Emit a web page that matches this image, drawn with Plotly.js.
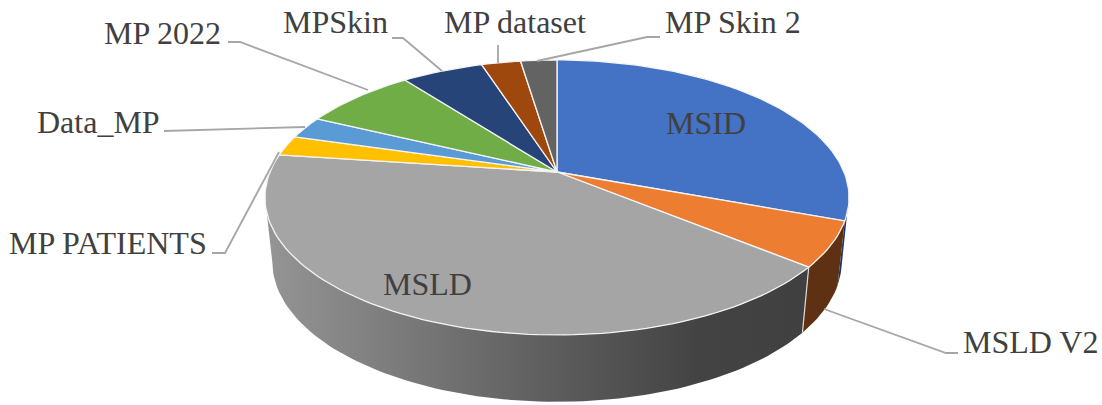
<!DOCTYPE html>
<html>
<head>
<meta charset="utf-8">
<script src="https://cdn.plot.ly/plotly-3.0.1.min.js"></script>
<style>html,body{margin:0;padding:0;background:#fff}#chart{width:1102px;height:405px}</style>
</head>
<body>
<div id="chart"></div>
<script>
// Data (percent of pie, clockwise from 12 o'clock)
var sliceNames  = ['MSID','MSLD V2','MSLD','MP PATIENTS','Data_MP','MP 2022','MPSkin','MP dataset','MP Skin 2'];
var sliceValues = [30.6, 5.3, 41.2, 2.4, 2.6, 7.5, 5.4, 2.6, 2.4];
var topColors   = ['#4472C4','#ED7D31','#A5A5A5','#FFC000','#5B9BD5','#70AD47','#264478','#9E480E','#636363'];
var wallColors  = ['#203864','#5E3112',null,null,null,null,null,null,null];

// Label placement (pixel axes)
var labelX = [706,1030,427,108,98,162,335,515,733];
var labelY = [123,342,284,243,122,33,22,22,22];

// Leader lines, by label index
var leaders = {
  1: {x:[958,946,824], y:[353,353,309]},
  3: {x:[212,225,279], y:[253,253,152]},
  4: {x:[164,305],     y:[131,127]},
  5: {x:[228,240,368], y:[42,42,90]},
  6: {x:[392,403,442], y:[38,38,71]},
  7: {x:[498,498],     y:[45,63]},
  8: {x:[660,647,537], y:[37,37,61]}
};

// Perspective of the disc
var cx = 557, cy = 172, bx = 287, ay = 132.8, k = 0.185;
var wallSX = 0.975, wallSY = 1.02, wallDY = 63.6;

function rim(deg){
  var t = deg*Math.PI/180, u = Math.cos(t), v = Math.sin(t), w = 1+k*u;
  return {dx: bx*v/w, dy: -ay*u/w};
}
function topPt(deg){ var p = rim(deg); return [cx+p.dx, cy+p.dy]; }
function botPt(deg){ var p = rim(deg); return [cx+wallSX*p.dx, cy+wallDY+wallSY*p.dy]; }

var total = sliceValues.reduce(function(a,b){return a+b;},0);
var starts = [], ends = [], acc = 0;
sliceValues.forEach(function(val){
  starts.push(acc/total*360); acc += val; ends.push(acc/total*360);
});

function range(a,b){ var o=[], n=Math.max(2,Math.ceil((b-a)/1.5)); for(var i=0;i<=n;i++) o.push(a+(b-a)*i/n); return o; }

var traces = [];
function wall(from,to,color,grad){
  var xs=[],ys=[];
  range(from,to).forEach(function(d){var p=topPt(d);xs.push(p[0]);ys.push(p[1]);});
  range(from,to).reverse().forEach(function(d){var p=botPt(d);xs.push(p[0]);ys.push(p[1]);});
  xs.push(xs[0]);ys.push(ys[0]);
  var tr={type:'scatter',mode:'lines',x:xs,y:ys,fill:'toself',hoverinfo:'skip',showlegend:false,
          line:{color:'rgba(0,0,0,0)',width:0}};
  if(grad) tr.fillgradient=grad; else tr.fillcolor=color;
  traces.push(tr);
}
// Side walls
var silhouette = 180/Math.PI*(2*Math.PI-Math.acos(-k));
wall(starts[0]+100, ends[0], wallColors[0], null);
wall(starts[1], ends[1], wallColors[1], null);
wall(starts[2], silhouette, '#666', {type:'horizontal',colorscale:[[0,'#959595'],[0.5,'#606060'],[0.8,'#434343'],[1,'#404040']]});
// Seam between walls
var s0=topPt(ends[1]), s1=botPt(ends[1]);
traces.push({type:'scatter',mode:'lines',x:[s0[0],s1[0]],y:[s0[1],s1[1]],hoverinfo:'skip',showlegend:false,line:{color:'#D9D9D9',width:1.2}});

// Top face
sliceValues.forEach(function(val,i){
  var xs=[cx],ys=[cy];
  range(starts[i],ends[i]).forEach(function(d){var p=topPt(d);xs.push(p[0]);ys.push(p[1]);});
  xs.push(cx);ys.push(cy);
  traces.push({type:'scatter',mode:'lines',x:xs,y:ys,fill:'toself',fillcolor:topColors[i],name:sliceNames[i],
    hoverinfo:'name',showlegend:false,line:{color:'#F4F4F4',width:1.3}});
});

// Leaders
Object.keys(leaders).forEach(function(key){
  traces.push({type:'scatter',mode:'lines',x:leaders[key].x,y:leaders[key].y,hoverinfo:'skip',showlegend:false,
    line:{color:'#A6A6A6',width:1.8}});
});

var annotations = sliceNames.map(function(name,i){
  return {x:labelX[i],y:labelY[i],xref:'x',yref:'y',text:name,showarrow:false,xanchor:'center',yanchor:'middle',
    font:{family:'"Liberation Serif","Times New Roman",serif',size:32,color:'#404040'}};
});

var layout = {
  width:1102,height:405,margin:{l:0,r:0,t:0,b:0},paper_bgcolor:'#fff',plot_bgcolor:'#fff',showlegend:false,
  xaxis:{range:[0,1102],visible:false,fixedrange:true},
  yaxis:{range:[405,0],visible:false,fixedrange:true},
  annotations:annotations
};
Plotly.newPlot('chart',traces,layout,{displayModeBar:false,staticPlot:true});
</script>
</body>
</html>
